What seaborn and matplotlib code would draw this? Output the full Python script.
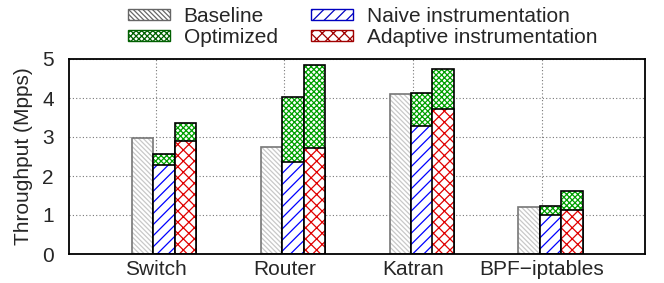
import numpy as np
import pandas as pd
import matplotlib
matplotlib.use('Agg')
import matplotlib.pyplot as plt
from matplotlib.patches import Patch
import seaborn as sns

# throughput in Mpps
apps = ['Switch', 'Router', 'Katran', 'BPF\u2212iptables']
baseline = [2.97, 2.74, 4.10, 1.21]
naive = [2.27, 2.37, 3.27, 1.00]
naive_optimized = [2.56, 4.02, 4.12, 1.24]
adaptive = [2.90, 2.73, 3.71, 1.12]
adaptive_optimized = [3.36, 4.84, 4.74, 1.61]
yticks = [0, 1, 2, 3, 4, 5]

sns.set_theme(style='white')
plt.rcParams['font.family'] = ['Liberation Sans', 'DejaVu Sans']
plt.rcParams['hatch.linewidth'] = 0.9

fig = plt.figure(figsize=(6.64, 2.83), dpi=100)
ax = fig.add_axes([69 / 664, 1 - 254 / 283, 576 / 664, 195 / 283])

pos = np.arange(len(apps))
w = 0.167

H_BASE = '\\' * 7
H_OPT = 'x' * 6
H_NAIVE = '///'
H_ADAPT = 'xxx'


def draw(ax, x, y, hatch, hcolor, ecolor, lw=1.2):
    df = pd.DataFrame({'x': x, 'y': y})
    sns.barplot(data=df, x='x', y='y', native_scale=True, orient='x', width=w,
                errorbar=None, saturation=1, ax=ax, facecolor='white',
                edgecolor=hcolor, hatch=hatch, linewidth=0)
    sns.barplot(data=df, x='x', y='y', native_scale=True, orient='x', width=w,
                errorbar=None, saturation=1, ax=ax, facecolor='none',
                edgecolor=ecolor, linewidth=lw)


green = '#00a000'
# baseline
draw(ax, pos - 0.10, baseline, H_BASE, '#c8c8c8', '#777777')
# optimized totals first, then the un-optimized part on top
draw(ax, pos + 0.067, naive_optimized, H_OPT, green, 'black')
draw(ax, pos + 0.233, adaptive_optimized, H_OPT, green, 'black')
draw(ax, pos + 0.067, naive, H_NAIVE, '#0000ff', 'black')
draw(ax, pos + 0.233, adaptive, H_ADAPT, '#e00000', 'black')

ax.set_xlim(-0.672, 3.80)
ax.set_ylim(0, 5)
ax.set_xticks(pos)
ax.set_xticklabels(apps, fontsize=15)
ax.set_yticks(yticks)
ax.set_yticklabels([str(t) for t in yticks], fontsize=15)
ax.tick_params(axis='x', length=0, pad=4)
ax.tick_params(axis='y', length=0, pad=11)
ax.set_xlabel('')
ax.set_ylabel('Throughput (Mpps)', fontsize=15)
ax.yaxis.set_label_coords(-0.0625, 0.5)
ax.set_axisbelow(True)
ax.grid(True, linestyle=(0, (1, 2)), color='#777777', linewidth=0.8)
for s in ax.spines.values():
    s.set_color('black')
    s.set_linewidth(1.3)

handles = [
    Patch(facecolor='white', edgecolor='#666666', hatch=H_BASE, label='Baseline'),
    Patch(facecolor='white', edgecolor='#006000', hatch=H_OPT, label='Optimized'),
    Patch(facecolor='white', edgecolor='#0000c0', hatch=H_NAIVE, label='Naive instrumentation'),
    Patch(facecolor='white', edgecolor='#a00000', hatch=H_ADAPT, label='Adaptive instrumentation'),
]
fig.legend(handles=handles, ncol=2, loc='upper left',
           bbox_to_anchor=(128 / 664, 0.975), frameon=False, fontsize=15,
           handlelength=2.0, handleheight=0.43, handletextpad=0.67,
           columnspacing=1.6, labelspacing=0.1, borderpad=0, borderaxespad=0)

fig.savefig('out.png', dpi=100)
